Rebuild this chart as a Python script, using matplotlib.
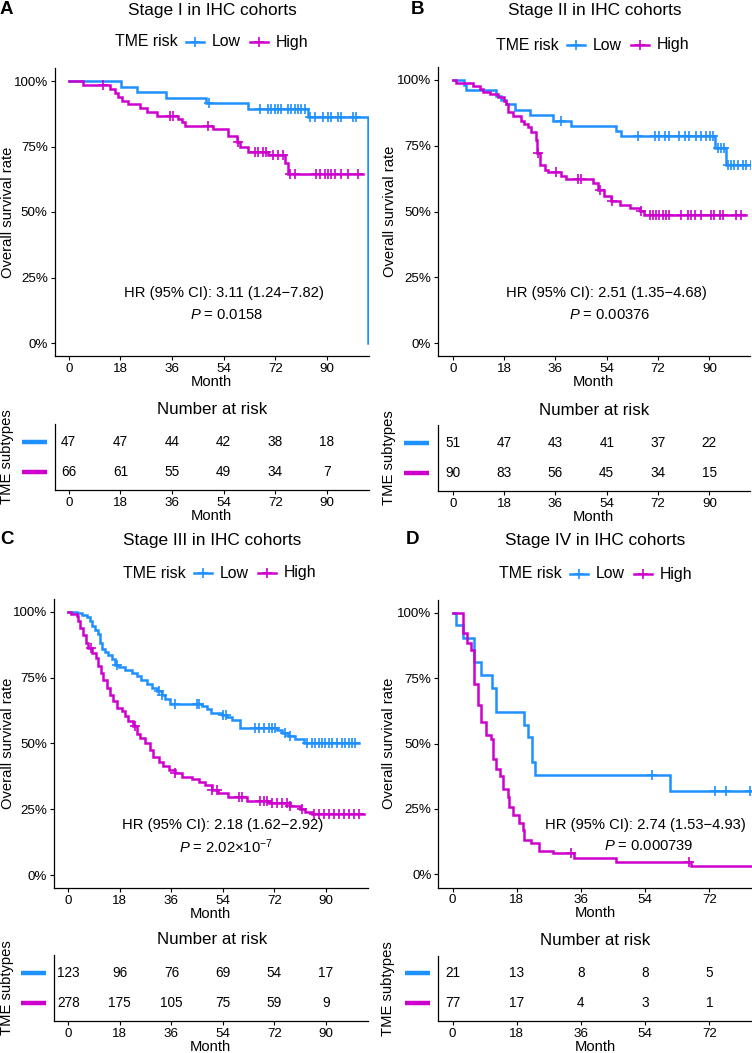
import numpy as np
import matplotlib
matplotlib.use("Agg")
import matplotlib.pyplot as plt
from matplotlib.lines import Line2D
from matplotlib import transforms

plt.rcParams['font.family'] = ['Liberation Sans', 'DejaVu Sans']
plt.rcParams['mathtext.fontset'] = 'custom'
plt.rcParams['mathtext.rm'] = 'Liberation Sans'
plt.rcParams['mathtext.it'] = 'Liberation Sans:italic'

W, H = 752, 1053
BLUE = '#1E90FF'
MAG = '#CD00CD'

# ---- Stage I ----
a_low_t = [0, 18.1, 23.9, 34.0, 48.0, 62.5, 83.4, 104.3]
a_low_s = [1.0, 0.979, 0.957, 0.936, 0.917, 0.894, 0.861, 0.0]
a_low_end = 104.3
a_low_cens = [49.0, 66.5, 69.4, 70.6, 71.8, 72.9, 74.1, 76.4, 77.6, 78.8, 79.9, 81.1, 82.2,
              84.0, 85.7, 88.6, 90.3, 91.5, 93.8, 95.0, 99.0, 100.2]
a_high_t = [0, 5.0, 14.3, 16.0, 17.2, 18.4, 20.7, 24.7, 27.1, 30.6, 38.1, 39.3, 40.4, 50.3,
            55.5, 58.6, 59.8, 62.5, 69.4, 75.3, 76.4]
a_high_s = [1.0, 0.985, 0.970, 0.955, 0.940, 0.925, 0.911, 0.896, 0.881, 0.865, 0.854, 0.845,
            0.829, 0.816, 0.791, 0.768, 0.749, 0.730, 0.718, 0.686, 0.645]
a_high_end = 102.5
a_high_cens = [12.0, 35.2, 36.3, 48.5, 59.0, 64.8, 66.0, 67.7, 68.9, 71.2, 73.0, 74.8, 77.0,
               78.7, 86.3, 87.5, 89.2, 90.4, 91.5, 92.7, 95.0, 97.3, 100.8]
a_risk_low = [47, 47, 44, 42, 38, 18]
a_risk_high = [66, 61, 55, 49, 34, 7]

# ---- Stage II ----
b_low_t = [0, 4.0, 4.6, 15.2, 17.0, 18.7, 21.9, 26.9, 35.1, 41.3, 57.3, 59.1, 92.1, 95.9]
b_low_s = [1.0, 0.980, 0.961, 0.940, 0.925, 0.907, 0.887, 0.866, 0.845, 0.826, 0.807, 0.787,
           0.743, 0.679]
b_low_end = 104.7
b_low_cens = [38.0, 64.9, 70.8, 72.5, 74.3, 76.0, 79.5, 81.3, 83.0, 85.4, 87.1, 88.9, 90.1,
              91.2, 93.0, 94.2, 95.3, 96.5, 97.7, 98.8, 100.0, 101.8, 102.9, 104.7]
b_high_t = [0, 1.2, 7.0, 9.4, 10.5, 12.9, 15.8, 18.1, 18.7, 19.3, 21.0, 24.0, 25.1, 26.3, 27.5,
            29.0, 29.6, 30.4, 32.2, 33.3, 38.0, 39.8, 49.1, 50.9, 53.2, 55.6, 58.5, 62.0, 65.5, 67.2]
b_high_s = [1.0, 0.989, 0.978, 0.967, 0.956, 0.947, 0.936, 0.921, 0.908, 0.879, 0.864, 0.845,
            0.832, 0.823, 0.803, 0.772, 0.724, 0.679, 0.660, 0.650, 0.637, 0.625, 0.610, 0.584,
            0.561, 0.539, 0.527, 0.514, 0.501, 0.486]
b_high_end = 102.9
b_high_cens = [30.0, 36.3, 43.9, 45.0, 51.5, 56.0, 65.9, 69.0, 70.2, 71.3, 72.5, 73.7, 74.9,
               76.0, 80.1, 82.5, 83.6, 84.8, 87.1, 90.6, 91.8, 93.6, 94.7, 99.4, 101.2]
b_risk_low = [51, 47, 43, 41, 37, 22]
b_risk_high = [90, 83, 56, 45, 34, 15]

# ---- Stage III ----
c_low_t = [0, 2.9, 4.7, 6.4, 7.6, 8.4, 9.3, 10.3, 11.1, 11.7, 12.8, 14.0, 15.2, 16.3, 17.7,
           19.8, 22.4, 23.9, 25.4, 27.4, 29.2, 30.9, 32.7, 33.8, 35.6, 46.6, 48.4, 49.9, 53.6,
           55.4, 57.1, 60.0, 72.9, 74.6, 76.9, 79.3, 82.2]
c_low_s = [1.0, 0.995, 0.989, 0.980, 0.963, 0.947, 0.932, 0.916, 0.881, 0.858, 0.845, 0.837,
           0.820, 0.798, 0.790, 0.779, 0.769, 0.757, 0.739, 0.726, 0.710, 0.697, 0.684, 0.668,
           0.650, 0.643, 0.630, 0.615, 0.608, 0.600, 0.589, 0.558, 0.551, 0.541, 0.529, 0.516,
           0.503]
c_low_end = 101.5
c_low_cens = [16.9, 31.5, 32.7, 37.1, 44.9, 45.5, 54.1, 55.0, 65.3, 66.5, 68.2, 70.0, 71.1,
              72.3, 75.8, 77.5, 83.3, 85.1, 86.3, 87.4, 88.6, 89.8, 91.0, 92.1, 93.9, 95.6,
              96.8, 98.0, 99.1, 100.3]
c_high_t = [0, 1.1, 2.9, 3.5, 4.1, 5.2, 6.1, 7.0, 8.2, 9.6, 10.5, 11.4, 12.2, 13.4, 14.6, 15.7,
            16.9, 18.7, 19.8, 21.0, 22.7, 23.9, 25.1, 26.8, 28.6, 29.7, 31.5, 33.2, 35.0, 37.3,
            39.7, 43.1, 45.5, 47.8, 50.1, 52.4, 55.9, 62.4, 70.0, 77.5, 80.9, 82.8, 85.1]
c_high_s = [1.0, 0.992, 0.982, 0.963, 0.938, 0.913, 0.881, 0.862, 0.843, 0.824, 0.792, 0.767,
            0.741, 0.710, 0.684, 0.659, 0.634, 0.621, 0.605, 0.583, 0.564, 0.536, 0.520, 0.503,
            0.475, 0.450, 0.431, 0.414, 0.399, 0.387, 0.374, 0.364, 0.355, 0.342, 0.323, 0.311,
            0.298, 0.282, 0.274, 0.264, 0.252, 0.241, 0.230]
c_high_end = 103.2
c_high_cens = [7.8, 23.3, 37.3, 50.1, 52.0, 59.5, 60.8, 67.0, 68.2, 69.4, 71.1, 72.9, 74.6,
               76.4, 77.5, 81.6, 85.7, 87.4, 89.2, 90.9, 92.7, 94.4, 96.2, 97.9, 99.7, 101.4]
c_risk_low = [123, 96, 76, 69, 54, 17]
c_risk_high = [278, 175, 105, 75, 59, 9]

# ---- Stage IV ----
d_low_t = [0, 1.0, 2.9, 6.1, 7.9, 11.0, 12.1, 20.1, 21.0, 22.2, 23.0, 60.9]
d_low_s = [1.0, 0.952, 0.905, 0.810, 0.762, 0.714, 0.619, 0.571, 0.524, 0.429, 0.381, 0.318]
d_low_end = 84
d_low_cens = [55.9, 73.7, 76.8, 83.5]
d_high_t = [0, 3.0, 3.9, 5.1, 6.1, 7.0, 7.9, 9.3, 10.7, 11.2, 12.1, 13.3, 14.0, 15.4, 15.9,
            16.8, 18.5, 19.6, 20.1, 22.0, 24.1, 28.1, 34.1, 45.8, 66.9]
d_high_s = [1.0, 0.922, 0.883, 0.857, 0.727, 0.649, 0.584, 0.532, 0.519, 0.441, 0.402, 0.376,
            0.325, 0.297, 0.259, 0.227, 0.195, 0.170, 0.132, 0.119, 0.091, 0.081, 0.064, 0.049,
            0.032]
d_high_end = 84
d_high_cens = [33.2, 66.4]
d_risk_low = [21, 13, 8, 8, 5]
d_risk_high = [77, 17, 4, 3, 1]

ticks_long = [0, 18, 36, 54, 72, 90]
ticks_short = [0, 18, 36, 54, 72]

titles = ['Stage I in IHC cohorts', 'Stage II in IHC cohorts',
          'Stage III in IHC cohorts', 'Stage IV in IHC cohorts']
letters = ['A', 'B', 'C', 'D']
hr_text = ['HR (95% CI): 3.11 (1.24\u22127.82)', 'HR (95% CI): 2.51 (1.35\u22124.68)',
           'HR (95% CI): 2.18 (1.62\u22122.92)', 'HR (95% CI): 2.74 (1.53\u22124.93)']
p_text = [r'$P$ = 0.0158', r'$P$ = 0.00376', r'$P$ = 2.02×10$^{-7}$', r'$P$ = 0.000739']

fig = plt.figure(figsize=(W / 100, H / 100), dpi=100)


def box(l, t, r, b):
    return [l / W, 1 - b / H, (r - l) / W, (b - t) / H]


def ftext(x, y, s, **kw):
    fig.text(x / W, 1 - y / H, s, **kw)


def fline(x0, x1, y, **kw):
    fig.add_artist(Line2D([x0 / W, x1 / W], [1 - y / H, 1 - y / H],
                          transform=fig.transFigure, **kw))


def km(ax, t, s, end, cens, color):
    ax.step(list(t) + [end], list(s) + [s[-1]], where='post', color=color, lw=1.8,
            solid_joinstyle='miter')
    idx = np.searchsorted(t, cens, side='right') - 1
    ax.plot(cens, np.array(s)[idx], ls='none', marker='+', ms=6.5, mew=1.2, color=color)


def style(ax, ticks, xlim):
    for sp in ['top', 'right']:
        ax.spines[sp].set_visible(False)
    for sp in ['left', 'bottom']:
        ax.spines[sp].set_linewidth(0.9)
    ax.set_xlim(xlim)
    ax.set_xticks(ticks)
    ax.tick_params(labelsize=9.6, length=3, width=0.8, pad=2, colors='black')
    ax.set_xlabel('Month', fontsize=10.6, labelpad=0)


panels = [
    dict(low=(a_low_t, a_low_s, a_low_end, a_low_cens), high=(a_high_t, a_high_s, a_high_end, a_high_cens),
         risk=(a_risk_low, a_risk_high), ticks=ticks_long, xlim=(-4.9, 104.5),
         km=(54.7, 67.9, 368.6, 356.1), tab=(54.7, 424, 368.6, 490), dy=0, cx=212,
         letter_x=0, ylab_x=8, leg_x=115, leg_y=42, bar=(22, 47)),
    dict(low=(b_low_t, b_low_s, b_low_end, b_low_cens), high=(b_high_t, b_high_s, b_high_end, b_high_cens),
         risk=(b_risk_low, b_risk_high), ticks=ticks_long, xlim=(-5.3, 104.2),
         km=(437.8, 66.8, 749.8, 356.5), tab=(437.8, 425, 749.8, 491), dy=0, cx=594.5,
         letter_x=411, ylab_x=390, leg_x=496, leg_y=45, bar=(404, 429)),
    dict(low=(c_low_t, c_low_s, c_low_end, c_low_cens), high=(c_high_t, c_high_s, c_high_end, c_high_cens),
         risk=(c_risk_low, c_risk_high), ticks=ticks_long, xlim=(-5.0, 104.5),
         km=(54.0, 598.5, 367.5, 888.2), tab=(54.0, 955, 367.5, 1021), dy=531, cx=212,
         letter_x=0, ylab_x=8, leg_x=123, leg_y=573, bar=(21, 46)),
    dict(low=(d_low_t, d_low_s, d_low_end, d_low_cens), high=(d_high_t, d_high_s, d_high_end, d_high_cens),
         risk=(d_risk_low, d_risk_high), ticks=ticks_short, xlim=(-4.0, 84.0),
         km=(438.4, 599.6, 752.1, 887.5), tab=(438.4, 955.5, 752.1, 1021), dy=531, cx=595,
         letter_x=406, ylab_x=389, leg_x=499, leg_y=574, bar=(405, 430)),
]

for i, p in enumerate(panels):
    # survival curves
    ax = fig.add_axes(box(*p['km']))
    km(ax, *p['low'], BLUE)
    km(ax, *p['high'], MAG)
    style(ax, p['ticks'], p['xlim'])
    ax.set_ylim(-0.05, 1.05)
    ax.set_yticks([0, 0.25, 0.5, 0.75, 1.0])
    ax.set_yticklabels(['0%', '25%', '50%', '75%', '100%'])
    ax.text(54, 0.19, hr_text[i], ha='center', va='center', fontsize=10.6)
    ax.text(55, 0.107, p_text[i], ha='center', va='center', fontsize=10.6)

    l, t, r, b = p['km']
    ftext(p['ylab_x'], (t + b) / 2, 'Overall survival rate', rotation=90,
          ha='center', va='center', fontsize=10.6)
    ftext(p['cx'], 10 + p['dy'], titles[i], ha='center', va='center', fontsize=12.4)
    ftext(p['letter_x'], 9 + p['dy'], letters[i], ha='left', va='center',
          fontsize=13.5, fontweight='bold')

    # legend row
    lx, ly = p['leg_x'], p['leg_y']
    ftext(lx, ly, 'TME risk', ha='left', va='center', fontsize=11.4)
    for off, col, lab in [(71, BLUE, 'Low'), (135, MAG, 'High')]:
        fline(lx + off, lx + off + 18, ly, color=col, lw=1.8)
        fig.add_artist(Line2D([(lx + off + 9) / W], [1 - ly / H], transform=fig.transFigure,
                              marker='+', ms=6.5, mew=1.2, color=col, ls='none'))
        ftext(lx + off + 26, ly, lab, ha='left', va='center', fontsize=11.4)

    # number at risk table
    tx = fig.add_axes(box(*p['tab']))
    style(tx, p['ticks'], p['xlim'])
    tx.set_ylim(0.4, 2.6)
    tx.set_yticks([])
    for row, vals in [(2, p['risk'][0]), (1, p['risk'][1])]:
        for x, v in zip(p['ticks'], vals):
            tx.text(x, row, str(v), ha='center', va='center', fontsize=9.8)
    tl, tt, tr, tb = p['tab']
    ftext(p['cx'], tt - 15, 'Number at risk', ha='center', va='center', fontsize=12.2)
    ftext(p['ylab_x'] - 1, (tt + tb) / 2, 'TME subtypes', rotation=90,
          ha='center', va='center', fontsize=10.6)
    trans = transforms.blended_transform_factory(fig.transFigure, tx.transData)
    for row, col in [(2, BLUE), (1, MAG)]:
        fig.add_artist(Line2D([p['bar'][0] / W, p['bar'][1] / W], [row, row],
                              transform=trans, color=col, lw=3.2, solid_capstyle='butt'))

fig.savefig('out.png', dpi=100)
